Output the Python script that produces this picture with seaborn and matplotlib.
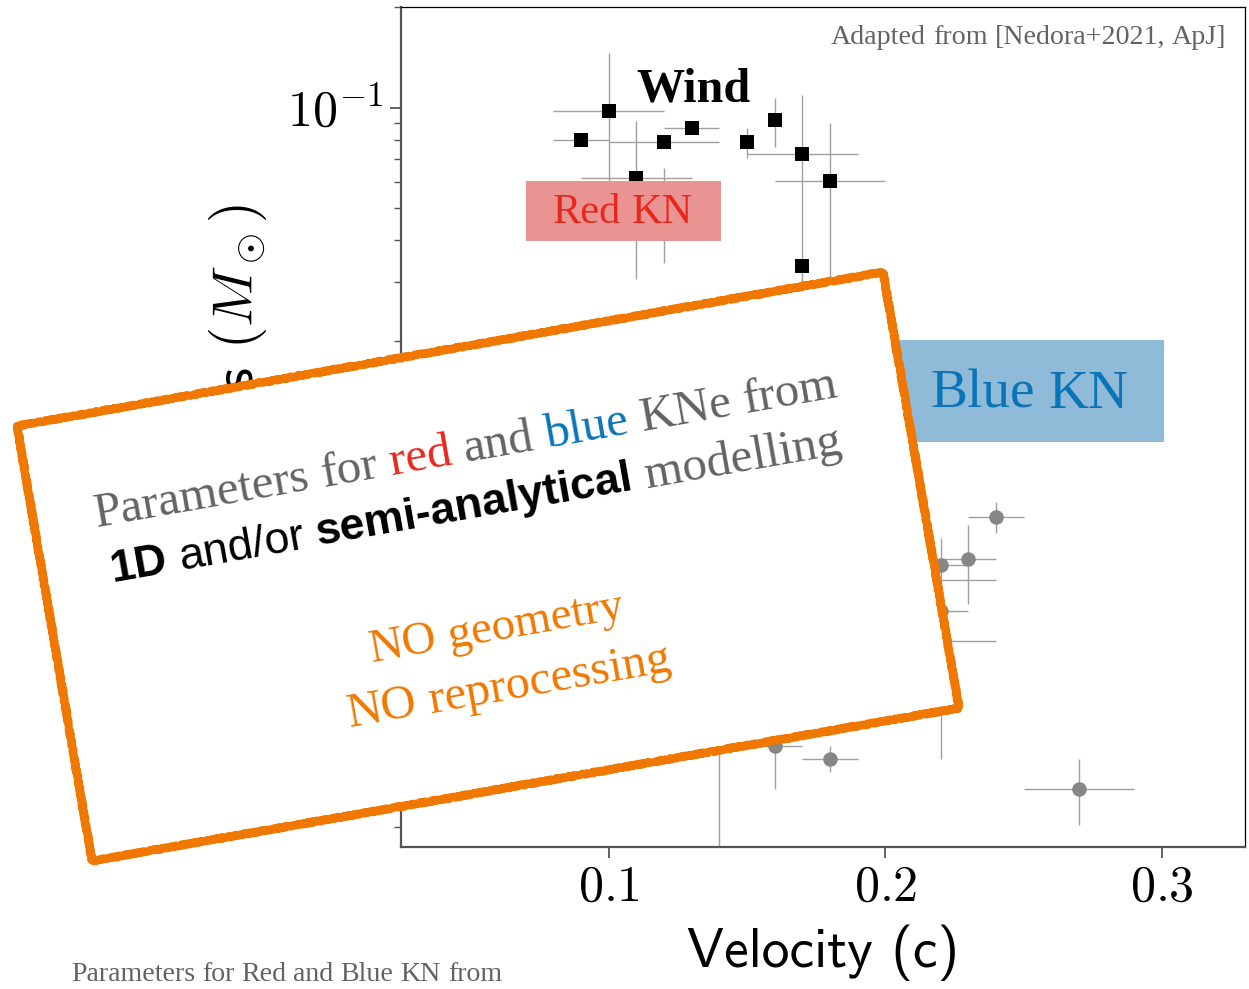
import math
import matplotlib
matplotlib.use("Agg")
import matplotlib.pyplot as plt
import numpy as np
import pandas as pd
import seaborn as sns
from matplotlib.patches import Polygon, Rectangle
from matplotlib.ticker import FuncFormatter, LogLocator, NullFormatter

# ---------------- data ----------------
# Wind ejecta (black squares)
wind_vel = [0.09, 0.10, 0.11, 0.12, 0.12, 0.13, 0.15, 0.16, 0.17, 0.18, 0.17]
wind_mass = [0.080, 0.0975, 0.0617, 0.0787, 0.055, 0.0871, 0.0787, 0.0916, 0.0727, 0.0602, 0.0335]
wind_vel_err = [0.01, 0.02, 0.02, 0.02, 0.0, 0.01, 0.0, 0.0, 0.02, 0.02, 0.0]
wind_mass_lo = [0.080, 0.055, 0.0306, 0.0787, 0.0343, 0.0871, 0.0704, 0.076, 0.025, 0.018, 0.0335]
wind_mass_hi = [0.080, 0.146, 0.091, 0.0787, 0.0657, 0.0871, 0.087, 0.107, 0.109, 0.090, 0.0335]

# Dynamical / blue component (grey circles)
blue_vel = [0.24, 0.23, 0.22, 0.22, 0.20, 0.20, 0.14, 0.16, 0.18, 0.27]
blue_mass = [0.00595, 0.00445, 0.00425, 0.0031, 0.00385, 0.00252, 0.0016, 0.00122, 0.00112, 0.000912]
blue_vel_err = [0.01, 0.01, 0.01, 0.01, 0.04, 0.04, 0.01, 0.01, 0.01, 0.02]
blue_mass_lo = [0.0053, 0.00325, 0.00112, 0.0028, 0.0035, 0.0023, 0.0004, 0.000908, 0.00102, 0.00071]
blue_mass_hi = [0.0066, 0.0056, 0.00515, 0.0034, 0.0042, 0.0028, 0.002, 0.0016, 0.00122, 0.00112]

x_ticks = [0.1, 0.2, 0.3]
x_tick_labels = ["$0.1$", "$0.2$", "$0.3$"]
x_label = "Velocity (c)"
y_label = r"Ejecta mass $(M_\odot)$"
x_limits = (0.025, 0.33)
y_limits = (6.1e-4, 0.2)

wind = pd.DataFrame(dict(v=wind_vel, m=wind_mass, verr=wind_vel_err,
                         lo=wind_mass_lo, hi=wind_mass_hi))
blue = pd.DataFrame(dict(v=blue_vel, m=blue_mass, verr=blue_vel_err,
                         lo=blue_mass_lo, hi=blue_mass_hi))

# ---------------- style ----------------
sns.set_theme(style="ticks")
plt.rcParams["font.family"] = ["Liberation Serif", "DejaVu Sans"]
plt.rcParams["mathtext.fontset"] = "cm"
plt.rcParams["axes.unicode_minus"] = True

GRAY_TXT = "#636363"
RED = "#e8261c"
BLUE = "#0b74b8"
ORANGE = "#f07800"
SERIF = "Liberation Serif"
SANS = "Liberation Sans"

W, H = 1249, 989
fig = plt.figure(figsize=(W / 100, H / 100), dpi=100)
fig.patch.set_facecolor("white")
ax = fig.add_axes([401 / W, 1 - 847 / H, 844 / W, 840 / H], zorder=1)
ax.set_facecolor("white")
ax.set_yscale("log")

# error bars + markers
ax.errorbar(wind["v"], wind["m"], xerr=wind["verr"],
            yerr=[wind["m"] - wind["lo"], wind["hi"] - wind["m"]],
            fmt="none", ecolor="#a0a0a0", elinewidth=1.0, capsize=0, zorder=2)
ax.errorbar(blue["v"], blue["m"], xerr=blue["verr"],
            yerr=[blue["m"] - blue["lo"], blue["hi"] - blue["m"]],
            fmt="none", ecolor="#a0a0a0", elinewidth=1.0, capsize=0, zorder=2)
sns.scatterplot(data=wind, x="v", y="m", marker="s", color="black", s=100,
                linewidth=0, ax=ax, zorder=3, legend=False)
sns.scatterplot(data=blue, x="v", y="m", marker="o", color="#878787", s=110,
                linewidth=0, ax=ax, zorder=3, legend=False)

ax.set_xlim(*x_limits)
ax.set_ylim(*y_limits)
ax.set_xticks(x_ticks)
ax.set_xticklabels(x_tick_labels)
ax.yaxis.set_major_locator(LogLocator(base=10))
ax.yaxis.set_major_formatter(FuncFormatter(lambda v, p: r"$10^{%d}$" % round(math.log10(v))))
ax.yaxis.set_minor_locator(LogLocator(base=10, subs=np.arange(2, 10)))
ax.yaxis.set_minor_formatter(NullFormatter())

ax.tick_params(axis="both", which="major", direction="out", length=8, width=1.3,
               color="#555555", labelsize=36, pad=5, labelcolor="black")
ax.tick_params(axis="y", which="minor", direction="out", length=5, width=1.0,
               color="#555555")
ax.tick_params(top=False, right=False)
for side in ("left", "bottom"):
    ax.spines[side].set_color("#555555")
    ax.spines[side].set_linewidth(1.6)
for side in ("top", "right"):
    ax.spines[side].set_color("black")
    ax.spines[side].set_linewidth(0.9)

ax.set_xlabel(x_label, fontsize=40, family="cmss10", labelpad=9, color="black")
ax.set_ylabel(y_label, fontsize=41, family="cmss10", labelpad=12, color="black")

# ---------------- overlay (annotations in pixel space) ----------------
ov = fig.add_axes([0, 0, 1, 1], zorder=10)
ov.set_xlim(0, W)
ov.set_ylim(H, 0)
ov.axis("off")
ov.patch.set_alpha(0)

renderer = fig.canvas.get_renderer()


def wpx(s, **kw):
    t = ov.text(0, 0, s, **kw)
    w = t.get_window_extent(renderer).width
    t.remove()
    return w


def space_px(**kw):
    return wpx("x x", **kw) - wpx("xx", **kw)


def line_width(words, scale=1.0):
    total = 0.0
    for i, (wd, st) in enumerate(words):
        kw = dict(st)
        kw["fontsize"] = st["fontsize"] * scale
        total += wpx(wd, **kw)
        if i < len(words) - 1:
            total += space_px(**kw)
    return total


def draw_line(x, y, words, target, ang=0.0, zorder=5):
    scale = target / line_width(words)
    c, s = math.cos(math.radians(ang)), math.sin(math.radians(ang))
    for i, (wd, st) in enumerate(words):
        kw = dict(st)
        kw["fontsize"] = st["fontsize"] * scale
        ov.text(x, y, wd, rotation=ang, rotation_mode="anchor", ha="left",
                va="baseline", zorder=zorder, **kw)
        adv = wpx(wd, **kw)
        if i < len(words) - 1:
            adv += space_px(**kw)
        x += adv * c
        y -= adv * s


def words_of(text, **st):
    return [(w, st) for w in text.split(" ")]


# coloured label boxes
ov.add_patch(Rectangle((526, 181), 195, 60, facecolor="#ea9393", edgecolor="none", zorder=1))
ov.add_patch(Rectangle((897, 340), 267, 102, facecolor="#8fbbd9", edgecolor="none", zorder=1))

draw_line(553, 223, words_of("Red KN", fontsize=30, family=SERIF, color=RED), 140, zorder=2)
draw_line(930, 408, words_of("Blue KN", fontsize=40, family=SERIF, color=BLUE), 198, zorder=2)
draw_line(636, 102, words_of("Wind", fontsize=30, family=SERIF, weight="bold", color="black"), 114)
draw_line(831, 44, words_of("Adapted from [Nedora+2021, ApJ]", fontsize=18, family=SERIF,
                            color=GRAY_TXT), 396)
draw_line(71, 981, words_of("Parameters for Red and Blue KN from", fontsize=18, family=SERIF,
                            color=GRAY_TXT), 431)

# the orange sketched box
corners = [(17, 426), (883, 272), (959, 708), (92, 861)]
box_fill = Polygon(corners, closed=True, facecolor="white", edgecolor="none", zorder=3)
ov.add_patch(box_fill)
edge1 = Polygon(corners, closed=True, facecolor="none", edgecolor=ORANGE, linewidth=5.5,
                joinstyle="round", capstyle="round", zorder=4)
edge1.set_sketch_params(scale=1.0, length=2.5, randomness=2)
ov.add_patch(edge1)
edge2 = Polygon(corners, closed=True, facecolor="none", edgecolor=ORANGE, linewidth=1.0,
                alpha=0.9, joinstyle="round", zorder=4)
edge2.set_sketch_params(scale=3.5, length=1.5, randomness=2)
ov.add_patch(edge2)
edge3 = Polygon(corners, closed=True, facecolor="none", edgecolor=ORANGE, linewidth=0.8,
                alpha=0.8, joinstyle="round", zorder=4)
edge3.set_sketch_params(scale=3.0, length=1.2, randomness=3)
ov.add_patch(edge3)

ANG = 10.0
gs = dict(family=SERIF, fontsize=35, color=GRAY_TXT)
line1 = (words_of("Parameters for", **gs)
         + [("red", dict(family=SERIF, fontsize=35, color=RED)),
            ("and", gs),
            ("blue", dict(family=SERIF, fontsize=35, color=BLUE))]
         + words_of("KNe from", **gs))
draw_line(97, 527, line1, 755, ang=ANG, zorder=6)

bs = dict(family=SANS, fontsize=32, weight="bold", color="black")
rs = dict(family=SANS, fontsize=32, color="black")
line2 = [("1D", bs), ("and/or", rs), ("semi-analytical", bs),
         ("modelling", dict(family=SERIF, fontsize=35, color=GRAY_TXT))]
draw_line(112, 582, line2, 744, ang=ANG, zorder=6)

os_ = dict(family=SERIF, fontsize=35, color=ORANGE)
draw_line(372, 662, words_of("NO geometry", **os_), 257, ang=ANG, zorder=6)
draw_line(350, 727, words_of("NO reprocessing", **os_), 327, ang=ANG, zorder=6)

fig.savefig("out.png", dpi=100, facecolor="white")
